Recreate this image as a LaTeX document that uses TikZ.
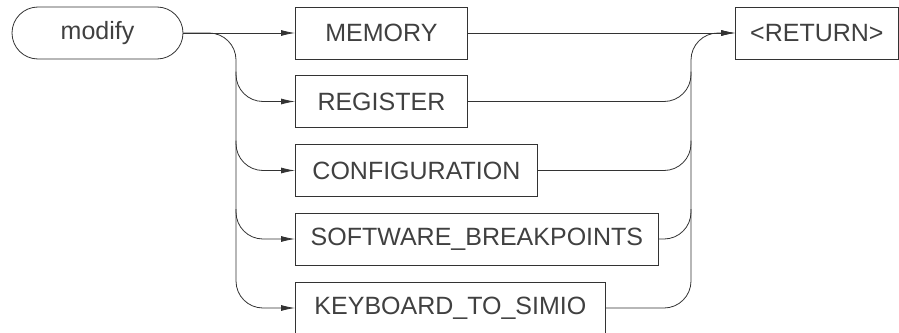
\documentclass[tikz,border=0pt]{standalone}
\usepackage{fontspec}
\setmainfont{Liberation Sans}
\usetikzlibrary{arrows.meta,positioning}
\tikzset{
  synbox/.style={draw,rectangle,minimum height=52pt,inner sep=0pt,anchor=west},
  rail/.style={rounded corners=27pt},
  into/.style={-{Latex[length=14pt,width=6pt]}}
}
\begin{document}
\begin{tikzpicture}[x=1pt,y=-1pt,line width=0.8pt,draw=black!80,
  font=\fontsize{25}{30}\selectfont,text=black!75]
  \useasboundingbox (0,0) rectangle (899,332);
  \node[draw,rounded corners=26pt,minimum width=171pt,minimum height=52pt]
    (modify) at (97.5,33) {modify};
  \node[synbox,minimum width=172pt] (mem) at (295,33) {MEMORY};
  \node[synbox,minimum width=172pt] (reg) at (295,101.5) {REGISTER};
  \node[synbox,minimum width=242pt] (conf) at (295,170.5) {CONFIGURATION};
  \node[synbox,minimum width=363pt] (soft) at (295,239) {SOFTWARE\_BREAKPOINTS};
  \node[synbox,minimum width=310pt] (keyb) at (295,308) {KEYBOARD\_TO\_SIMIO};
  \node[synbox,minimum width=163pt] (ret) at (735,33) {<RETURN>};
  % left rail
  \coordinate (lrail) at (236,33);
  \draw[into] (modify.east) -- (mem.west);
  \draw[rail,into] (modify.east) -- (lrail) -- (lrail |- keyb.west) -- (keyb.west);
  \foreach \n in {reg,conf,soft}
    \draw[rail,into] ([yshift=30pt]lrail |- \n.west) -- (lrail |- \n.west) -- (\n.west);
  % right rail
  \coordinate (rrail) at (691,33);
  \draw[into] (mem.east) -- (ret.west);
  \draw[rail,into] (keyb.east) -- (rrail |- keyb.east) -- (rrail) -- (ret.west);
  \foreach \n in {reg,conf,soft}
    \draw[rail] (\n.east) -- (rrail |- \n.east) -- ([yshift=30pt]rrail |- \n.east);
\end{tikzpicture}
\end{document}
